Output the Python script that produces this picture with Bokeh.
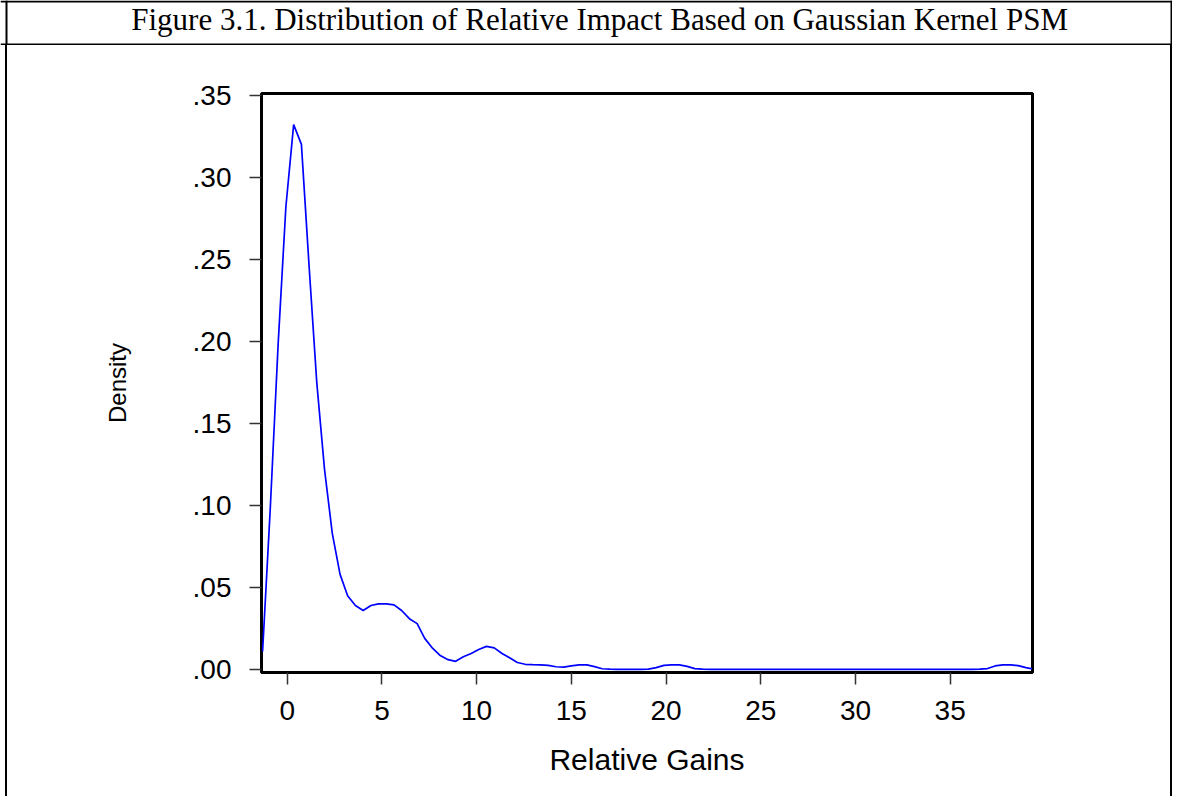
from bokeh.plotting import figure
from bokeh.layouts import column, row
from bokeh.models import Range1d, FixedTicker, CustomJSTickFormatter, Span, Spacer, Div
from bokeh.core.properties import value
from bokeh.embed import file_html
from bokeh.resources import INLINE

title_text = "Figure 3.1.  Distribution of Relative Impact Based on Gaussian Kernel PSM"
x_label = "Relative Gains"
y_label = "Density"

x_ticks = [0, 5, 10, 15, 20, 25, 30, 35]
x_tick_labels = ["0", "5", "10", "15", "20", "25", "30", "35"]
y_ticks = [0.0, 0.05, 0.10, 0.15, 0.20, 0.25, 0.30, 0.35]
y_tick_labels = [".00", ".05", ".10", ".15", ".20", ".25", ".30", ".35"]

gain_x = [-1.30, -0.89, -0.48, -0.07, 0.34, 0.75, 1.16, 1.56, 1.97, 2.38,
          2.79, 3.19, 3.60, 4.01, 4.42, 4.82, 5.23, 5.64, 6.04, 6.45,
          6.86, 7.26, 7.67, 8.08, 8.49, 8.89, 9.30, 9.71, 10.11, 10.52,
          10.93, 11.34, 11.74, 12.15, 12.56, 12.96, 13.37, 13.78, 14.19, 14.59,
          15.00, 15.41, 15.82, 16.22, 16.63, 17.04, 17.44, 17.85, 18.26, 18.67,
          19.07, 19.48, 19.89, 20.29, 20.70, 21.11, 21.52, 21.92, 22.33, 24.00,
          27.00, 30.00, 33.00, 35.74, 36.15, 36.56, 36.97, 37.37, 37.78, 38.19,
          38.59, 39.00, 39.33]
density_y = [0.011, 0.099, 0.198, 0.282, 0.332, 0.320, 0.245, 0.175, 0.122, 0.083,
             0.058, 0.045, 0.039, 0.036, 0.039, 0.040, 0.040, 0.0394, 0.036, 0.031,
             0.028, 0.019, 0.013, 0.0085, 0.006, 0.005, 0.0078, 0.0098, 0.0122, 0.0141,
             0.0132, 0.0098, 0.0072, 0.0043, 0.0032, 0.0030, 0.0029, 0.0025, 0.0017, 0.0015,
             0.0022, 0.0029, 0.0028, 0.0018, 0.0005, 0.0002, 0.0001, 0.0001, 0.0001, 0.0001,
             0.0003, 0.0012, 0.0025, 0.0029, 0.0028, 0.0019, 0.0006, 0.0002, 0.0001, 0.0001,
             0.0001, 0.0001, 0.0001, 0.0001, 0.0001, 0.0002, 0.0006, 0.0022, 0.0029, 0.0029,
             0.0024, 0.0012, 0.0004]

W, H = 1172, 796
TITLE_H = 45
GAP_W, LINE_W = 5, 2
MAIN_W = W - GAP_W - 2 * LINE_W
MAIN_H = H - TITLE_H
ML, MT = 254, 48
FRAME_W, FRAME_H = 771, 579
MR = MAIN_W - ML - FRAME_W
MB = MAIN_H - MT - FRAME_H

# ---- title row with its border
pt = figure(width=W, height=TITLE_H, output_backend="svg", toolbar_location=None,
            x_range=Range1d(0, W), y_range=Range1d(TITLE_H, 0),
            x_axis_location=None, y_axis_location=None,
            min_border=0, min_border_left=0, min_border_right=0,
            min_border_top=0, min_border_bottom=0, margin=0,
            background_fill_color="white", border_fill_color="white")
pt.outline_line_color = None
pt.xgrid.visible = False
pt.ygrid.visible = False
for loc, dim in [(1, "width"), (TITLE_H - 1, "width"), (GAP_W + 1, "height"), (W - 1, "height")]:
    pt.add_layout(Span(location=loc, dimension=dim, line_color="black", line_width=2))
pt.text(x=[603], y=[19], text=[title_text], text_font=value("Liberation Serif"),
        text_font_size="31px", text_align="center", text_baseline="middle",
        text_color="black")

# ---- main chart
p = figure(width=MAIN_W, height=MAIN_H, output_backend="svg", toolbar_location=None,
           x_range=Range1d(-1.357, 39.345), y_range=Range1d(-0.0018, 0.3510),
           min_border_left=ML, min_border_right=MR, min_border_top=MT, min_border_bottom=MB,
           margin=0, background_fill_color="white", border_fill_color="white")
p.outline_line_color = "black"
p.outline_line_width = 3
p.xgrid.visible = False
p.ygrid.visible = False

p.line(gain_x, density_y, line_color="#0000ff", line_width=1.7)

fmt_code = """
for (let i = 0; i < vals.length; i++) {
  if (Math.abs(vals[i] - tick) < 1e-9) { return labels[i]; }
}
return "";
"""

for ax, ticks, labels, lab in [(p.xaxis[0], x_ticks, x_tick_labels, x_label),
                               (p.yaxis[0], y_ticks, y_tick_labels, y_label)]:
    ax.ticker = FixedTicker(ticks=ticks)
    ax.formatter = CustomJSTickFormatter(args=dict(vals=ticks, labels=labels), code=fmt_code)
    ax.axis_line_color = None
    ax.major_tick_in = 0
    ax.major_tick_out = 12
    ax.major_tick_line_color = "#333333"
    ax.major_tick_line_width = 1.5
    ax.minor_tick_line_color = None
    ax.major_label_text_font = "Liberation Sans"
    ax.major_label_text_font_size = "28px"
    ax.major_label_text_color = "black"
    ax.axis_label = lab
    ax.axis_label_text_font = "Liberation Sans"
    ax.axis_label_text_font_style = "normal"
    ax.axis_label_text_color = "black"

p.xaxis.axis_label_text_font_size = "30px"
p.yaxis.axis_label_text_font_size = "24px"
p.xaxis.major_label_standoff = 16
p.xaxis.axis_label_standoff = 20
p.yaxis.major_label_standoff = 18
p.yaxis.axis_label_standoff = 59

# ---- outer border lines beside the chart
left_line = Div(width=LINE_W, height=MAIN_H, margin=0, styles={"background-color": "black"})
right_line = Div(width=LINE_W, height=MAIN_H, margin=0, styles={"background-color": "black"})
gap = Spacer(width=GAP_W, height=MAIN_H, margin=0)

layout = column(pt, row(gap, left_line, p, right_line, spacing=0, margin=0),
                spacing=0, margin=0)

open("out.html", "w").write(file_html(layout, INLINE))
